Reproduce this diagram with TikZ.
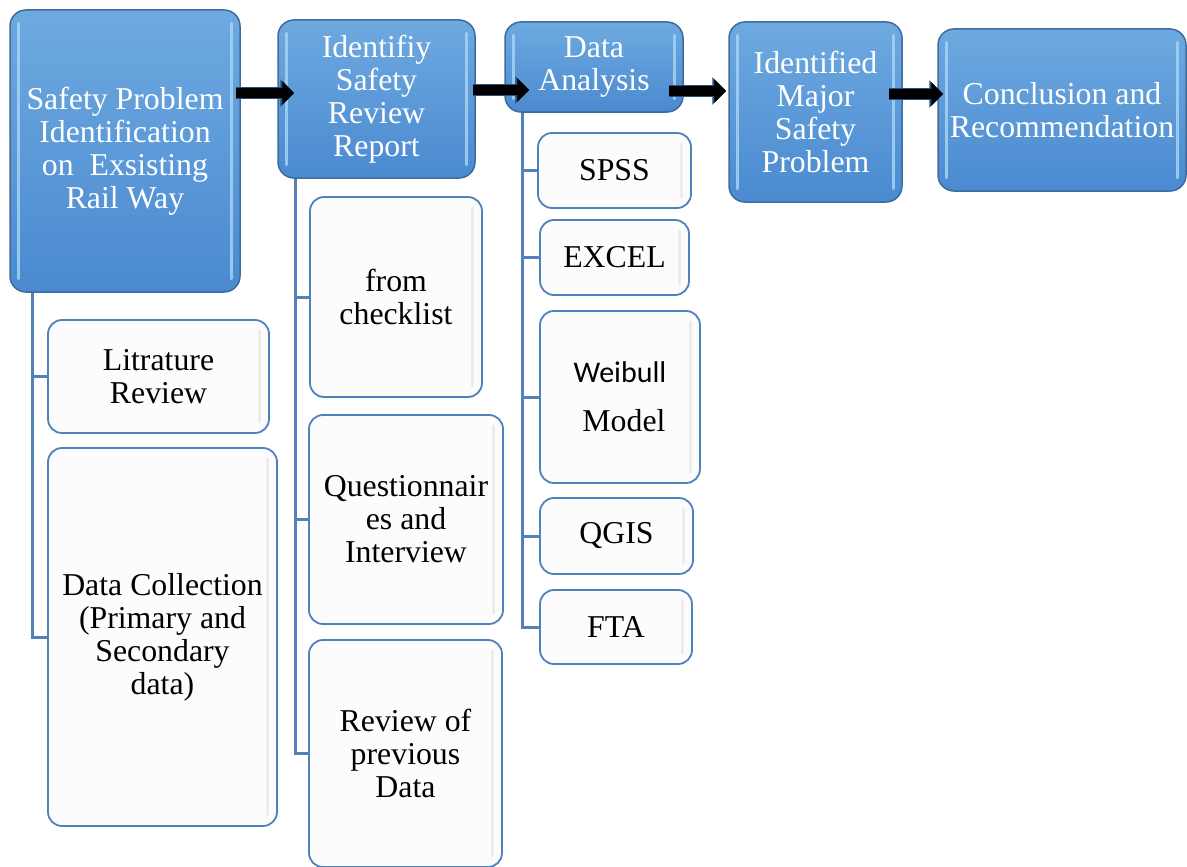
\documentclass[tikz,border=0pt]{standalone}
\usepackage{fontspec}
\setmainfont{Liberation Serif}
\newfontfamily\calib{Carlito}
\usetikzlibrary{arrows.meta}
\definecolor{hdrtop}{HTML}{6EA9E0}
\definecolor{hdrbot}{HTML}{4A8AD0}
\definecolor{hdrline}{HTML}{3D6D9E}
\definecolor{bevelc}{HTML}{A4D3F5}
\definecolor{childline}{HTML}{4F81BD}
\definecolor{childfill}{HTML}{FCFCFC}
\definecolor{connblue}{HTML}{5381B9}
\definecolor{arrowedge}{HTML}{2B4F7C}
\definecolor{stripc}{HTML}{ECECEC}
\newcommand{\hfont}{\fontsize{31.8}{33}\selectfont}
\newcommand{\cfont}{\fontsize{31.8}{33}\selectfont}
\tikzset{
  hdr/.style={rounded corners=16pt, draw=hdrline, line width=1.5pt,
    top color=hdrtop, bottom color=hdrbot, text=white, font=\hfont,
    align=center, inner sep=0pt},
  child/.style={rounded corners=14pt, draw=childline, line width=1.8pt,
    fill=childfill, text=black, font=\cfont, align=center, inner sep=0pt},
  bevel/.style={draw=bevelc, line width=3pt, line cap=round, opacity=0.85},
  strip/.style={draw=stripc, line width=3pt, line cap=round},
  conn/.style={draw=connblue, line width=3pt},
  bigarrow/.style={line width=10pt, draw=black, -{Triangle[length=12pt,width=23pt]},
    preaction={draw=arrowedge, line width=12.5pt, -{Triangle[length=14pt,width=27pt]}}}
}
\begin{document}
\begin{tikzpicture}[x=1pt,y=-1pt]
\useasboundingbox[fill=white] (0,0) rectangle (1187,867);

% header boxes
\node[hdr, minimum width=230pt, minimum height=282pt] (b1) at (125,151)
  {Safety Problem\\Identification\\on\ \ Exsisting\\Rail Way};
\node[hdr, minimum width=197pt, minimum height=158pt] (b2) at (376.5,99)
  {Identifiy\\Safety\\Review\\Report};
\node[hdr, minimum width=178pt, minimum height=90pt] (b3) at (594,67)
  {Data\\Analysis};
\node[hdr, minimum width=173pt, minimum height=180pt] (b4) at (815.5,112)
  {Identified\\Major\\Safety\\Problem};
\node[hdr, minimum width=248pt, minimum height=162pt] (b5) at (1062,110)
  {Conclusion and\\Recommendation};

\foreach \b in {b1,b2,b3,b4,b5}{
  \draw[bevel] ([shift={(9pt,-14pt)}]\b.north west) -- ([shift={(9pt,14pt)}]\b.south west);
  \draw[bevel] ([shift={(-9pt,-14pt)}]\b.north east) -- ([shift={(-9pt,14pt)}]\b.south east);
}

% child boxes
\node[child, minimum width=221pt, minimum height=113pt] (lit) at (158.5,376.5)
  {Litrature\\Review};
\node[child, minimum width=229pt, minimum height=378pt] (dc) at (162.5,637)
  {Data Collection\\(Primary and\\Secondary\\data)};
\node[child, minimum width=172pt, minimum height=200pt] (chk) at (396,297)
  {from\\checklist};
\node[child, minimum width=194pt, minimum height=209pt] (qst) at (406,519.5)
  {Questionnair\\es and\\Interview};
\node[child, minimum width=193pt, minimum height=227pt] (rev) at (405.5,753.5)
  {Review of\\previous\\Data};
\node[child, minimum width=153pt, minimum height=75pt] (spss) at (614.5,170.5)
  {SPSS};
\node[child, minimum width=149pt, minimum height=75pt] (excel) at (614.5,257.5)
  {EXCEL};
\node[child, minimum width=160pt, minimum height=172pt] (weib) at (620,397)
  {{\calib\fontsize{30}{33}\selectfont Weibull}\\[16pt]\ Model};
\node[child, minimum width=153pt, minimum height=76pt] (qgis) at (616.5,536)
  {QGIS};
\node[child, minimum width=152pt, minimum height=74pt] (fta) at (616,627)
  {FTA};

\foreach \c in {lit,dc,chk,qst,rev,spss,excel,weib,qgis,fta}{
  \draw[strip] ([shift={(-10pt,-12pt)}]\c.north east) -- ([shift={(-10pt,12pt)}]\c.south east);
}

% connectors
\draw[conn] ([xshift=23pt]b1.south west) |- (lit.west);
\draw[conn] ([xshift=23pt]b1.south west) |- (dc.west);
\draw[conn] ([xshift=18pt]b2.south west) |- (chk.west);
\draw[conn] ([xshift=18pt]b2.south west) |- (qst.west);
\draw[conn] ([xshift=18pt]b2.south west) |- (rev.west);
\draw[conn] ([xshift=18pt]b3.south west) |- (spss.west);
\draw[conn] ([xshift=18pt]b3.south west) |- (excel.west);
\draw[conn] ([xshift=18pt]b3.south west) |- (weib.west);
\draw[conn] ([xshift=18pt]b3.south west) |- (qgis.west);
\draw[conn] ([xshift=18pt]b3.south west) |- (fta.west);

% big arrows
\draw[bigarrow] ([shift={(-5pt,58pt)}]b1.east) -- ([shift={(17pt,6pt)}]b2.west);
\draw[bigarrow] ([shift={(-3pt,9pt)}]b2.east) -- ([shift={(25pt,-23pt)}]b3.west);
\draw[bigarrow] ([shift={(-15pt,-24pt)}]b3.east) -- ([shift={(-2pt,21pt)}]b4.west);
\draw[bigarrow] ([shift={(-14pt,18pt)}]b4.east) -- ([shift={(6pt,16pt)}]b5.west);
\end{tikzpicture}
\end{document}
